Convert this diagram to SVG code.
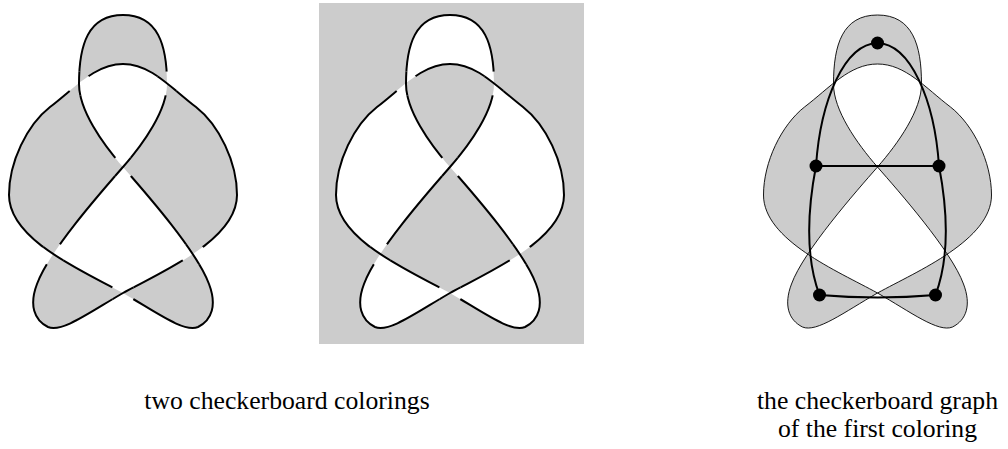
<svg xmlns="http://www.w3.org/2000/svg" xmlns:xlink="http://www.w3.org/1999/xlink" width="1008" height="449" viewBox="0 0 1008 449">
<style>
  .st { fill: none; stroke: #000; stroke-width: 2; stroke-linejoin: round; }
  .thin { fill: none; stroke: #000; stroke-width: 0.9; }
  .edge { fill: none; stroke: #000; stroke-width: 2; }
  .vtx { fill: #000; }
  .lbl { font-family: "Liberation Serif", "Times New Roman", serif; font-size: 25.7px; fill: #000; text-anchor: middle; }
</style>
<defs>
  <path id="knot" d="M123,167 C102,143 79,110 79,84 C79,45 88,15 123,15 C158,15 167,45 167,84 C167,110 144,143 123,167 C102,191 49,251 37,284 C29,305 34,320 48,327 C62,333 90,312 123,293 C163,271 237,240 237,195 C237,162 219,125 196,107 C171,88 151,64 123,64 C95,64 75,88 50,107 C27,125 9,162 9,195 C9,240 83,271 123,293 C156,312 184,333 198,327 C212,320 217,305 209,284 C197,251 144,191 123,167 Z"/>
  <path id="o1" d="M123,167 C102,143 79,110 79,84 C79,45 88,15 123,15"/>
  <path id="o2" d="M237,195 C237,162 219,125 196,107 C171,88 151,64 123,64"/>
  <path id="o3" d="M167,84 C167,110 144,143 123,167 C102,191 49,251 37,284"/>
  <path id="o4" d="M9,195 C9,240 83,271 123,293"/>
  <path id="o5" d="M209,284 C197,251 144,191 123,167"/>
  <path id="o6" d="M48,327 C62,333 90,312 123,293 C163,271 237,240 237,195"/>
  <clipPath id="cp1" clipPathUnits="userSpaceOnUse"><circle cx="79" cy="83.5" r="12"/></clipPath>
  <clipPath id="cp2" clipPathUnits="userSpaceOnUse"><circle cx="167" cy="83.5" r="12"/></clipPath>
  <clipPath id="cp3" clipPathUnits="userSpaceOnUse"><circle cx="123" cy="167" r="12"/></clipPath>
  <clipPath id="cp4" clipPathUnits="userSpaceOnUse"><circle cx="53" cy="254" r="12"/></clipPath>
  <clipPath id="cp5" clipPathUnits="userSpaceOnUse"><circle cx="193" cy="254" r="12"/></clipPath>
  <clipPath id="cp6" clipPathUnits="userSpaceOnUse"><circle cx="123" cy="293" r="12"/></clipPath>
  <mask id="gaps" maskUnits="userSpaceOnUse" x="-20" y="-20" width="290" height="380">
    <rect x="-20" y="-20" width="290" height="380" fill="#fff"/>
    <circle cx="79" cy="83.5" r="12" fill="#000"/>
    <circle cx="167" cy="83.5" r="12" fill="#000"/>
    <circle cx="123" cy="167" r="12" fill="#000"/>
    <circle cx="53" cy="254" r="12" fill="#000"/>
    <circle cx="193" cy="254" r="12" fill="#000"/>
    <circle cx="123" cy="293" r="12" fill="#000"/>
  </mask>
  <g id="strands">
    <g mask="url(#gaps)"><use href="#knot" class="st"/></g>
    <use href="#o1" class="st" clip-path="url(#cp1)"/>
    <use href="#o2" class="st" clip-path="url(#cp2)"/>
    <use href="#o3" class="st" clip-path="url(#cp3)"/>
    <use href="#o4" class="st" clip-path="url(#cp4)"/>
    <use href="#o5" class="st" clip-path="url(#cp5)"/>
    <use href="#o6" class="st" clip-path="url(#cp6)"/>
  </g>
</defs>

<rect width="1008" height="449" fill="#fff"/>

<g id="coloring1">
  <use href="#knot" fill="#cccccc" fill-rule="evenodd"/>
  <use href="#strands"/>
</g>

<g id="coloring2">
  <rect x="319" y="3" width="265" height="341" fill="#cccccc"/>
  <g transform="translate(327,0)">
    <use href="#knot" fill="#fff" fill-rule="evenodd"/>
    <use href="#strands"/>
  </g>
</g>

<g id="graph" transform="translate(754.5,0)">
  <g id="shaded-knot">
    <use href="#knot" fill="#cccccc" fill-rule="evenodd"/>
    <use href="#knot" class="thin"/>
  </g>
  <g id="connectors">
    <path class="edge" d="M123,43 C90,44 66,100 61.5,166"/>
    <path class="edge" d="M123,43 C156,44 180,100 184.5,166"/>
    <path class="edge" d="M61.5,166 L184.5,166"/>
    <path class="edge" d="M61.5,166 C54,205 50,255 65,295"/>
    <path class="edge" d="M184.5,166 C192,205 196,255 181,295"/>
    <path class="edge" d="M65,295 Q123,300 181,295"/>
  </g>
  <g id="v-top"><circle class="vtx" cx="123" cy="43" r="6.5"/></g>
  <g id="v-left"><circle class="vtx" cx="61.5" cy="166" r="6.5"/></g>
  <g id="v-right"><circle class="vtx" cx="184.5" cy="166" r="6.5"/></g>
  <g id="v-bottom-left"><circle class="vtx" cx="65" cy="295" r="6.5"/></g>
  <g id="v-bottom-right"><circle class="vtx" cx="181" cy="295" r="6.5"/></g>
</g>

<g id="labels">
  <text class="lbl" x="287" y="409">two checkerboard colorings</text>
  <text class="lbl" x="877.5" y="409">the checkerboard graph</text>
  <text class="lbl" x="877.5" y="437">of the first coloring</text>
</g>
</svg>
